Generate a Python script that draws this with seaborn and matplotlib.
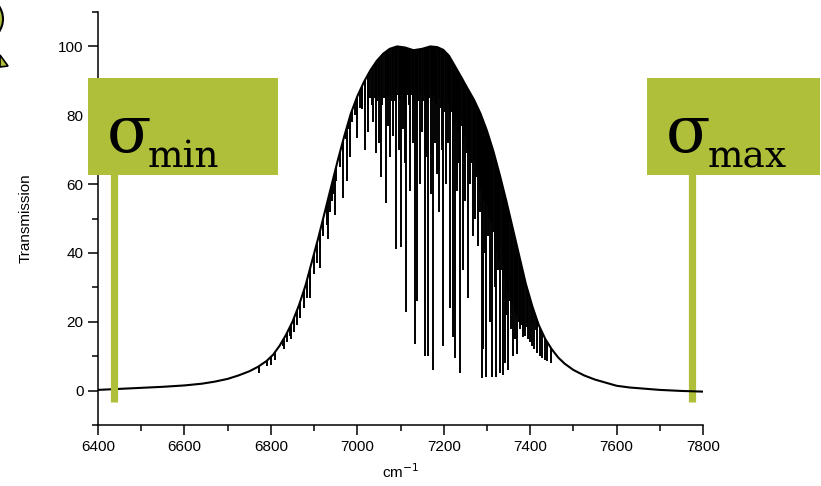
import pandas as pd
import seaborn as sns
import matplotlib.pyplot as plt
from matplotlib.patches import Rectangle, Circle, Polygon
from matplotlib.ticker import MultipleLocator

# smooth band envelope (cm-1, transmission %)
env_cm = [6400, 6450, 6500, 6550, 6600, 6640, 6670, 6700, 6725, 6750, 6770, 6790,
          6805, 6820, 6835, 6850, 6865, 6880, 6895, 6910, 6925, 6940, 6955, 6970,
          6985, 7000, 7015, 7030, 7045, 7060, 7075, 7092, 7110, 7130, 7150, 7169,
          7185, 7199, 7212, 7225, 7240, 7255, 7270, 7285, 7300, 7315, 7330, 7345,
          7360, 7375, 7390, 7405, 7420, 7435, 7450, 7465, 7480, 7500, 7525, 7550,
          7575, 7600, 7630, 7660, 7700, 7750, 7800]
env_T = [0.2, 0.5, 0.8, 1.1, 1.5, 2.0, 2.6, 3.4, 4.4, 5.6, 6.9, 8.6,
         10.4, 13.0, 16.2, 20.0, 24.8, 30.5, 37.5, 44.5, 52, 59.5, 67, 74,
         80.5, 85.5, 89.6, 93, 95.8, 97.9, 99.3, 100, 99.7, 98.9, 99.3, 100,
         99.8, 99, 97.3, 94.5, 91.2, 87.8, 84.5, 80.5, 75.5, 69.5, 62.5, 55,
         47, 39, 31, 24.5, 19, 15, 12, 9.6, 7.8, 6, 4.4, 3.2,
         2.3, 1.4, 0.9, 0.6, 0.2, -0.1, -0.3]

# strong absorption lines (position, bottom of the line)
strong_cm = [6828, 6844, 6868, 6891, 6914, 6932, 6941, 6948, 6967, 6976, 6983, 6999,
             7011, 7018, 7043, 7050, 7066, 7076, 7083, 7090, 7101, 7106, 7113, 7118,
             7134, 7138, 7157, 7164, 7175, 7189, 7198, 7215, 7222, 7226, 7238, 7245,
             7256, 7268, 7279, 7289, 7292, 7298, 7307, 7312, 7322, 7330, 7337, 7342,
             7349, 7360, 7370, 7384, 7393, 7404, 7414]
strong_min = [13, 16, 21, 27, 35.5, 44, 55, 51, 56, 61, 68, 73.5,
              81.7, 70, 69, 72, 54.6, 68, 74, 41, 41.6, 76, 22.7, 87.5,
              13.4, 26, 10, 10, 6, 52, 13, 24, 15.7, 9.6, 5, 35,
              27, 45, 42, 3.8, 12, 4, 20, 4, 4, 5, 4.6, 8,
              6, 10, 10.5, 15.7, 18.6, 19.8, 17.7]

# medium-depth lines
medium_cm = [7025, 7037, 7055, 7070, 7096, 7110, 7122, 7128, 7145, 7150, 7160, 7170,
             7180, 7185, 7195, 7205, 7210, 7230, 7235, 7250, 7260, 7273, 7284, 7295,
             7302, 7318, 7326, 7345, 7355, 7365, 7376]
medium_min = [75, 78, 62, 77, 70, 66, 58, 72, 60, 75, 68, 57,
              72, 63, 70, 60, 72, 58, 66, 55, 60, 50, 52, 40,
              45, 30, 35, 22, 18, 15, 18]

# weak, densely packed lines
weak_cm = [6772, 6790, 6800, 6810,
           6830, 6838, 6846, 6853, 6861, 6868, 6876, 6884, 6891, 6899, 6906, 6914,
           6921, 6929, 6936, 6944, 6951, 6959, 6966, 6974, 6981, 6988, 6995,
           7000, 7006, 7012, 7018, 7024, 7029, 7034, 7040, 7045, 7050, 7056, 7061,
           7066, 7071, 7077, 7082, 7087, 7093, 7098, 7103, 7109, 7114, 7119, 7124,
           7130, 7135, 7140, 7146, 7151, 7156, 7162, 7167, 7172, 7178, 7183, 7188,
           7193, 7199, 7204, 7209, 7214, 7219, 7224, 7229, 7234, 7239, 7244, 7249,
           7254, 7259, 7264, 7269, 7274, 7279, 7284, 7289, 7294, 7299, 7304, 7309,
           7314, 7319, 7324, 7329, 7334, 7339, 7344, 7349, 7354, 7359, 7364, 7369,
           7374, 7379, 7384, 7389, 7394, 7399, 7404, 7410, 7416, 7422, 7428, 7434,
           7440, 7448]
weak_min = [5, 7, 7.5, 9,
            12, 14, 15, 17, 19, 21, 24, 27, 30, 34, 37, 41,
            45, 48, 52, 57, 61, 65, 70, 73, 76, 78, 80,
            80, 82, 82, 84, 83, 85, 83, 85, 84, 86, 83, 85,
            84, 86, 84, 86, 84, 86, 84, 86, 84, 86, 83, 86,
            84, 86, 84, 86, 84, 86, 83, 85, 84, 86, 83, 85,
            82, 84, 81, 83, 79, 81, 77, 79, 75, 77, 72, 74,
            69, 70, 66, 67, 62, 63, 58, 59, 55, 54, 50, 49,
            46, 43, 40, 38, 35, 33, 30, 28, 26, 25, 23, 22,
            20, 19, 17, 16, 15, 14, 13, 12, 11, 10, 9.5, 9,
            8.5, 8]

sigma_cm = [6436, 7774]
green = '#b0bf3a'

sns.set_style('ticks')
plt.rcParams['font.family'] = ['Liberation Sans', 'DejaVu Sans']
plt.rcParams['text.color'] = 'black'
plt.rcParams['axes.labelcolor'] = 'black'
plt.rcParams['xtick.color'] = 'black'
plt.rcParams['ytick.color'] = 'black'

fig = plt.figure(figsize=(8.21, 4.86), dpi=100)
ax = fig.add_axes([0.1194, 0.1255, 0.7369, 0.8498])

env = pd.DataFrame({'cm': env_cm, 'T': env_T})
sns.lineplot(data=env, x='cm', y='T', color='black', lw=1.5, ax=ax, zorder=3)

# absorption lines, clipped to the area under the envelope
clip = ax.fill_between(env_cm, env_T, -10, facecolor='none', edgecolor='none')
vl = ax.vlines(strong_cm + medium_cm + weak_cm,
               strong_min + medium_min + weak_min, 102,
               color='black', lw=1.4, zorder=2)
vl.set_clip_path(clip.get_paths()[0], ax.transData)

# sigma markers
ax.vlines(sigma_cm[0], -3.2, 63, color=green, lw=5.2, zorder=5, clip_on=False)
ax.vlines(sigma_cm[1], -3.2, 63, color=green, lw=5.2, zorder=1, clip_on=False)

ax.set_xlim(6400, 7800)
ax.set_ylim(-10, 110)
ax.xaxis.set_major_locator(MultipleLocator(200))
ax.xaxis.set_minor_locator(MultipleLocator(100))
ax.yaxis.set_minor_locator(MultipleLocator(10))
ax.set_yticks([0, 20, 40, 60, 80, 100])
ax.tick_params(which='major', length=7, width=1.1, labelsize=11)
ax.tick_params(which='minor', length=4, width=1.1)
for s in ['left', 'bottom']:
    ax.spines[s].set_linewidth(1.1)
    ax.spines[s].set_color('black')
sns.despine(ax=ax)

ax.set_xlabel('cm$^{-1}$', fontsize=11)
ax.set_ylabel('Transmission', fontsize=11)
ax.xaxis.set_label_coords(0.5, -0.09)
ax.yaxis.set_label_coords(-0.108, 0.5)


def px(x, y):
    return (x / 821, 1 - y / 486)


W, H = 821, 486
for x0, x1 in [(88, 278), (647, 820)]:
    fig.add_artist(Rectangle(px(x0, 175), (x1 - x0) / W, 97 / H,
                             transform=fig.transFigure, facecolor=green,
                             edgecolor='none', zorder=4))

for x_sig, x_sub, sub in [(107, 148, 'min'), (666, 708, 'max')]:
    fig.text(*px(x_sig, 152), '\u03c3', fontsize=47, family='DejaVu Serif',
             color='black', ha='left', va='baseline', zorder=6)
    fig.text(*px(x_sub, 167), sub, fontsize=27, family='DejaVu Serif',
             color='black', ha='left', va='baseline', zorder=6)

# callout fragment at top-left corner
fig.add_artist(Circle(px(-58.7, 19), 61.7 / W, transform=fig.transFigure,
                      facecolor=green, edgecolor='black', lw=1.5, zorder=4))
fig.add_artist(Polygon([px(0, 55), px(8, 66), px(0, 67)], closed=True,
                       transform=fig.transFigure, facecolor=green,
                       edgecolor='black', lw=1.2, zorder=4))

fig.savefig('out.png', dpi=100)
